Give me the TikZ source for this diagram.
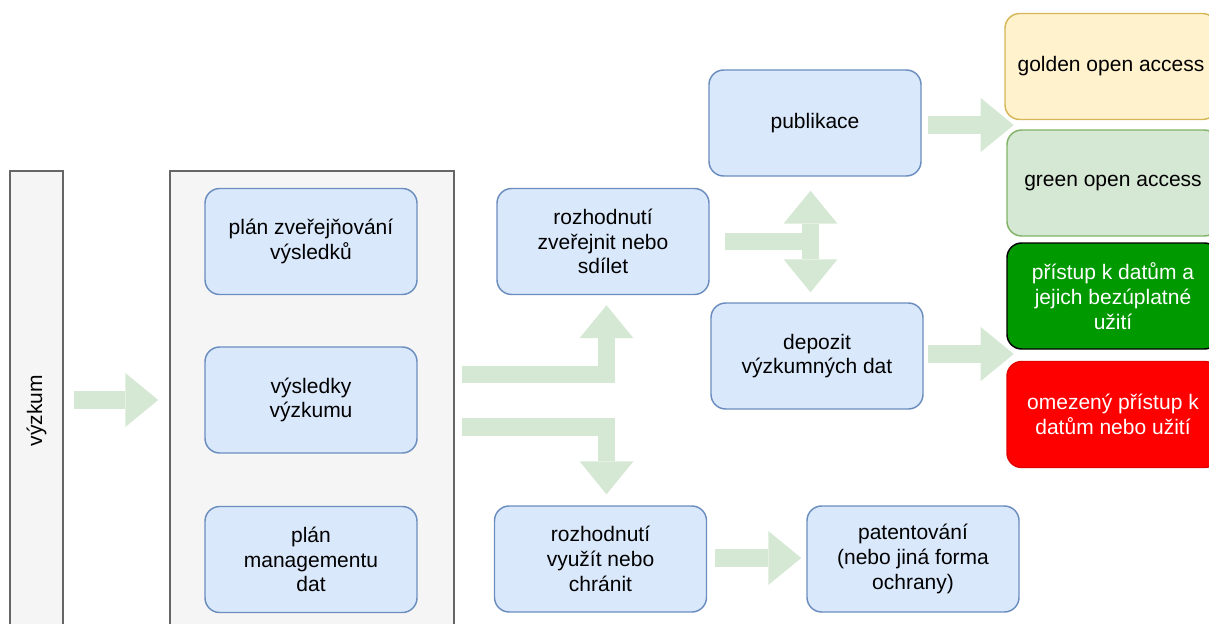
\documentclass[tikz,border=0pt]{standalone}
\usepackage{fontspec}
\setmainfont{Liberation Sans}
\usepackage{xcolor}
\usetikzlibrary{positioning,arrows.meta,calc}

\definecolor{boxfill}{HTML}{DAE8FC}
\definecolor{boxline}{HTML}{6C8EBF}
\definecolor{grayfill}{HTML}{F5F5F5}
\definecolor{grayline}{HTML}{666666}
\definecolor{goldfill}{HTML}{FFF2CC}
\definecolor{goldline}{HTML}{D6B656}
\definecolor{greenfill}{HTML}{D5E8D4}
\definecolor{greenline}{HTML}{82B366}
\definecolor{accfill}{HTML}{009900}
\definecolor{restrfill}{HTML}{FF0000}
\definecolor{restrline}{HTML}{E00000}
\definecolor{arrowfill}{HTML}{D5E8D4}

\tikzset{
  fattip/.tip={Triangle[width=40.5pt,length=24.75pt,line width=0pt]},
  fat/.style={line width=13pt, draw=arrowfill, -fattip},
  box/.style={draw=boxline, fill=boxfill, rounded corners=11pt, line width=1.1pt,
    minimum width=159pt, minimum height=79.5pt, inner sep=0pt, align=center,
    font=\fontsize{15.75pt}{18.5pt}\selectfont},
  frame/.style={draw=grayline, fill=grayfill, line width=1.1pt, inner sep=0pt,
    font=\fontsize{15.75pt}{18.5pt}\selectfont},
}

\begin{document}
\begin{tikzpicture}[x=0.75pt,y=-0.75pt]
\clip (0,0) rectangle (1209,624);

% Research column and the container of plans
\node[frame, rotate=90, minimum width=359.25pt, minimum height=39.75pt] (vyzkum) at (36.5,410.5) {výzkum};
\node[frame, minimum width=213pt, minimum height=359.25pt] (cont) at (312,410.5) {};

\node[box] (zplan) at (311,241.5) {plán zveřejňování\\výsledků};
\node[box] (vysl) at (311,400) {výsledky\\výzkumu};
\node[box] (dmp) at (311,559.5) {plán\\managementu\\dat};

% Decisions
\node[box] (zver) at (603,241.5) {rozhodnutí\\zveřejnit nebo\\sdílet};
\node[box] (vyuz) at (600.5,559) {rozhodnutí\\využít nebo\\chránit};

% Outputs
\node[box] (publ) at (815,123) {publikace};
\node[box] (depo) at (817,356) {depozit\\výzkumných dat};
\node[box] (pat) at (913,559) {patentování\\(nebo jiná forma\\ochrany)};

% Access types
\node[box, draw=goldline, fill=goldfill] (gold) at (1111,66.5) {golden open access};
\node[box, draw=greenline, fill=greenfill] (green) at (1113,183) {green open access};
\node[box, draw=black, fill=accfill, text=white] (acc) at (1113,296) {přístup k datům a\\jejich bezúplatné\\užití};
\node[box, draw=restrline, fill=restrfill, text=white] (restr) at (1113,414.5) {omezený přístup k\\datům nebo užití};

% Flow arrows
\draw[fat] ($(vyzkum.south |- vysl)+(10,0)$) -- ($(cont.west |- vysl)+(-11,0)$);
\draw[fat] ($(cont.east |- vysl)+(7,-25.5)$) -| ($(zver.south)+(3.5,10)$);
\draw[fat] ($(cont.east |- vysl)+(7,27)$) -| ($(vyuz.north)+(6,-11)$);
\draw[fat, -] ($(zver.east)+(15,0)$) -- ($(zver.east)+(101.5,0)$);
\draw[fat, fattip-fattip] ($(publ.south)+(-4.5,14)$) -- ($(depo.north)+(-6.5,-10)$);
\draw[fat] ($(publ.east)+(6,2)$) -- ++(86,0);
\draw[fat] ($(depo.east)+(4,-2)$) -- ++(86,0);
\draw[fat] ($(vyuz.east)+(8,-1)$) -- ($(pat.west)+(-5,-1)$);

\end{tikzpicture}
\end{document}
